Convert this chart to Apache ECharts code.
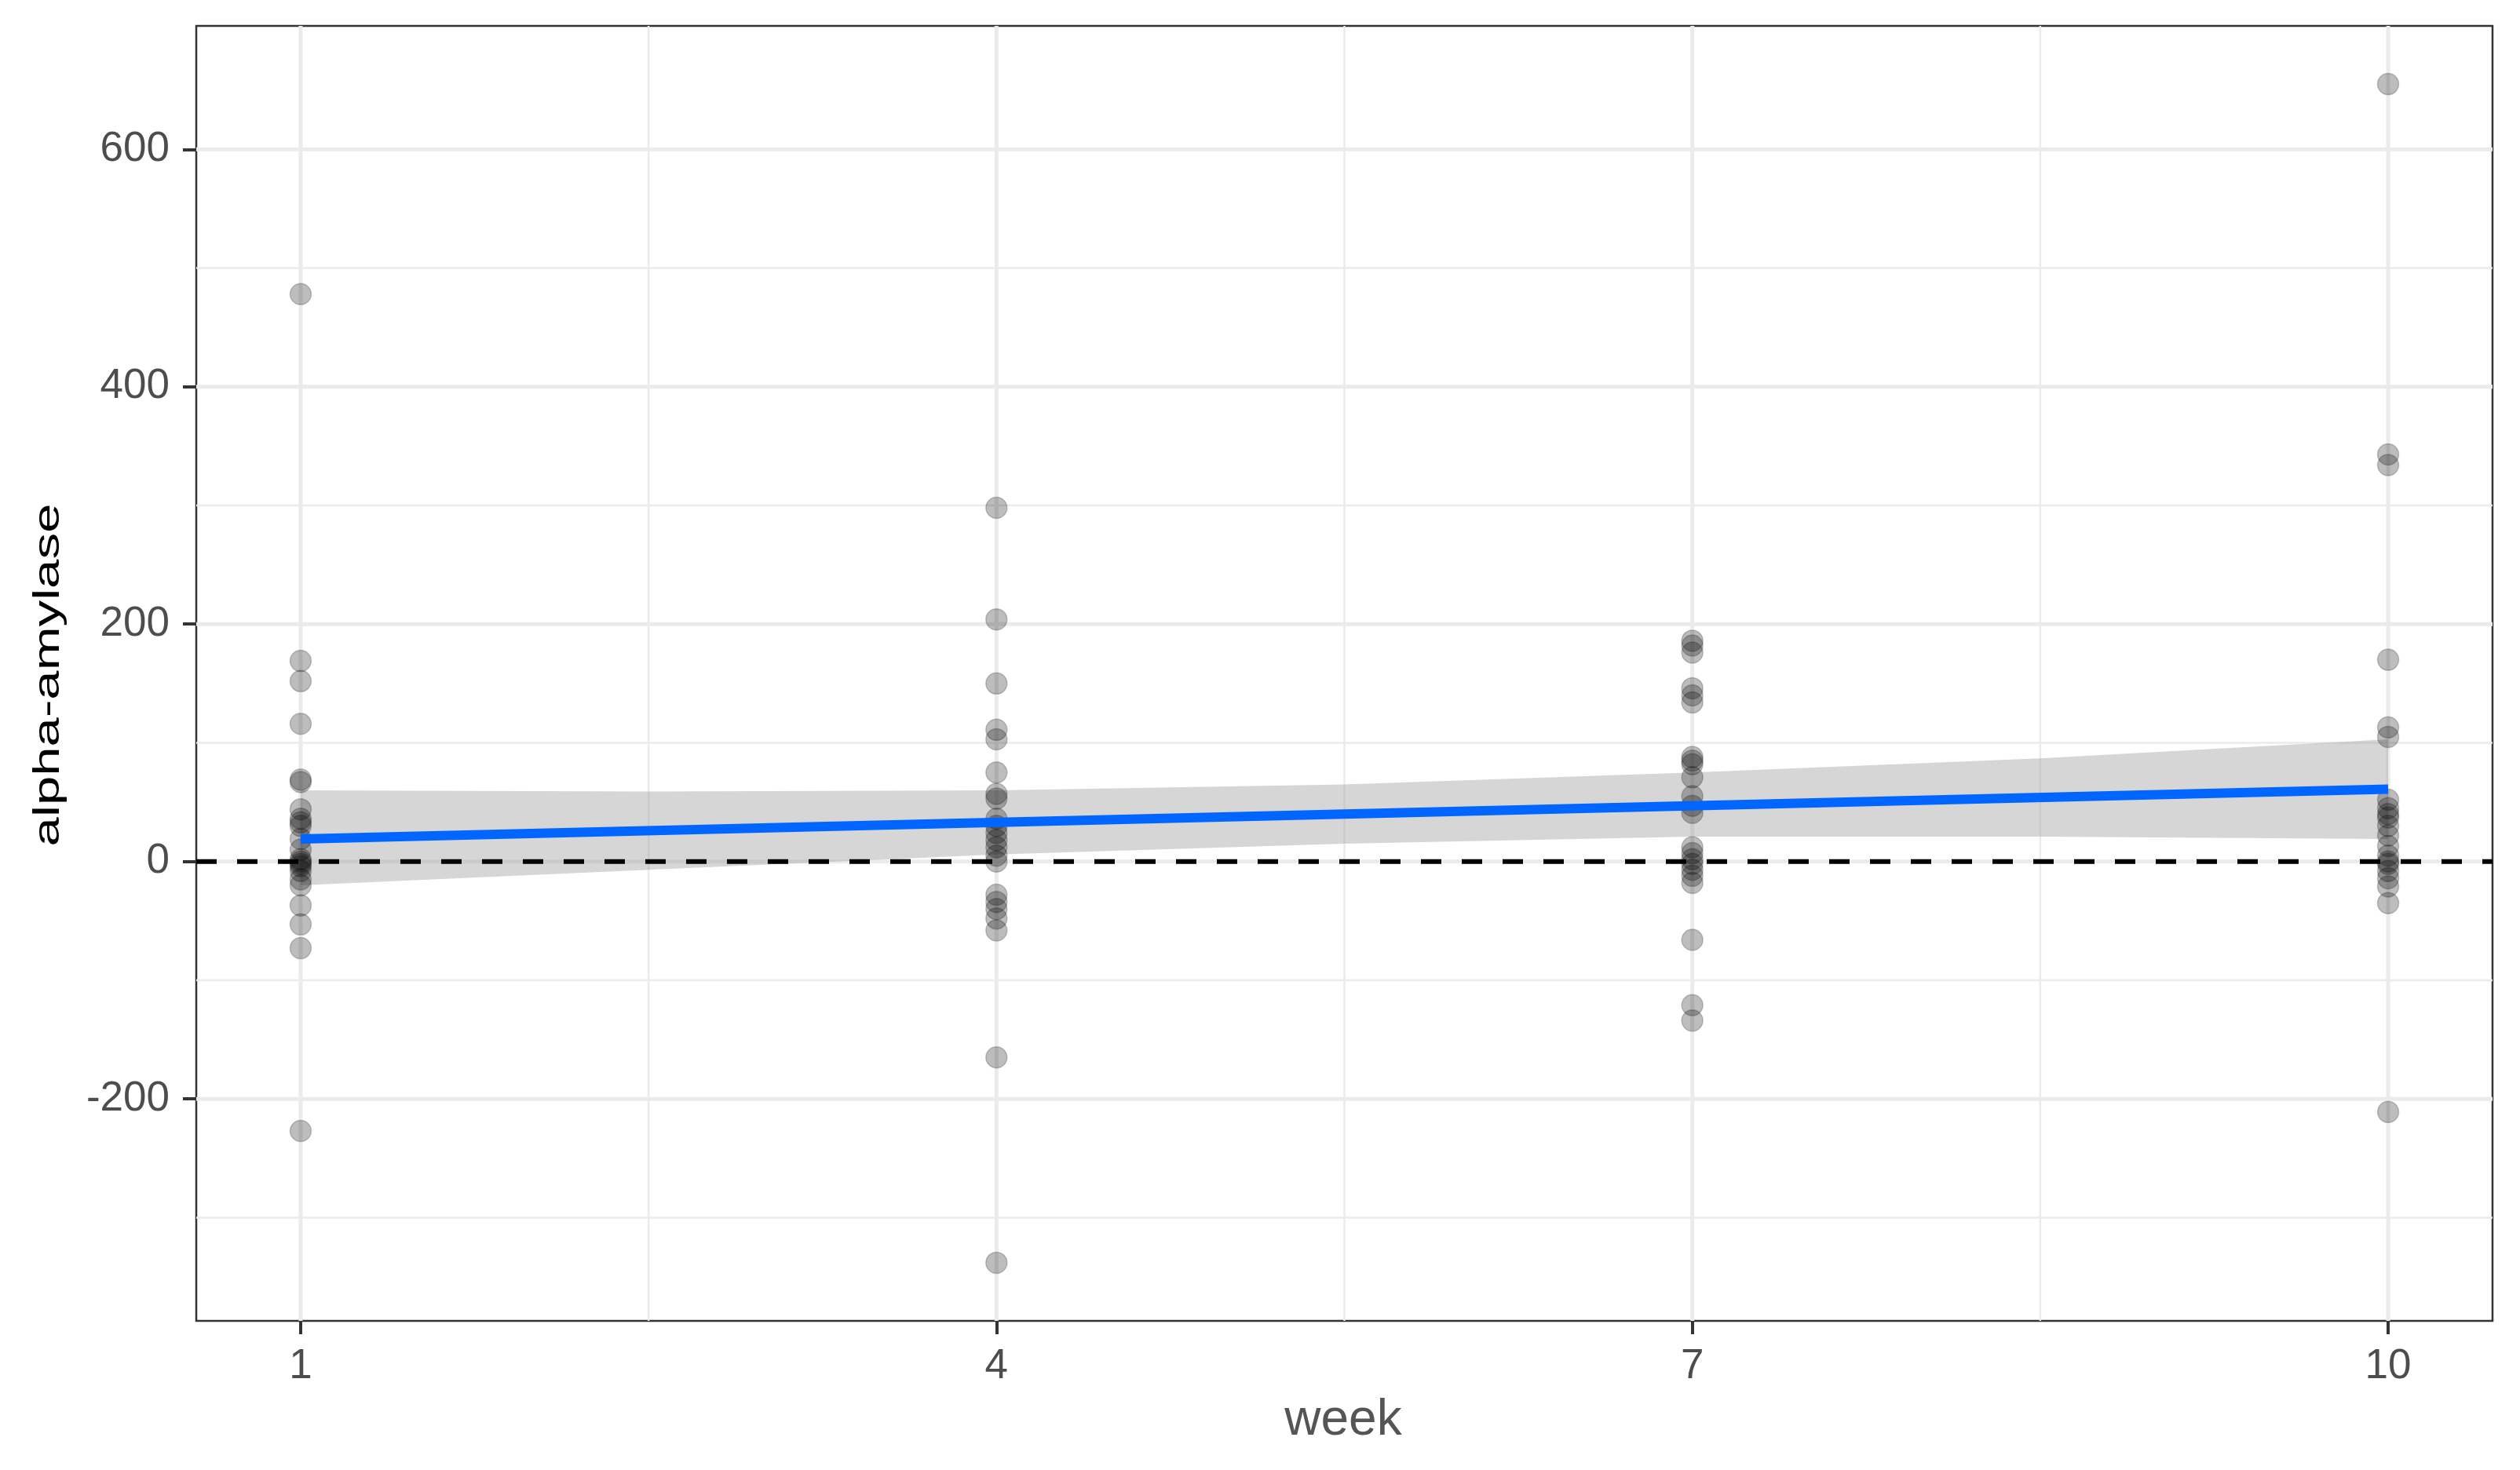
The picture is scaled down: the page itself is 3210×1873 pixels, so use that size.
<!DOCTYPE html>
<html>
<head>
<meta charset="utf-8">
<script src="https://cdn.jsdelivr.net/npm/echarts@6/dist/echarts.min.js"></script>
<style>
html,body{margin:0;padding:0;background:#fff;}
#chart{width:3210px;height:1873px;}
</style>
</head>
<body>
<div id="chart"></div>
<script>
// ---- data ----
const weeks = [1, 4, 7, 10];
const week1 = [478, 169, 152, 116, 69, 67, 44, 36, 33, 30, 19, 10, 2, 0, -2, -4, -8, -15, -20, -37, -53, -73, -227];
const week4 = [298, 204, 150, 111, 103, 75, 57, 53, 36, 30, 24, 18, 12, 5, 0, -28, -34, -40, -48, -58, -165, -338];
const week7 = [186, 182, 176, 146, 140, 134, 88, 85, 82, 71, 55, 47, 41, 12, 7, 2, -2, -7, -12, -18, -66, -121, -134];
const week10 = [655, 343, 334, 170, 113, 105, 52, 45, 40, 37, 30, 22, 13, 5, 0, -2, -8, -14, -21, -35, -211];
const fitX = [1, 10];
const fitY = [19, 61];
const bandX = [1, 2.5, 4, 5.5, 7, 8.5, 10];
const bandLower = [-20, -7, 6, 15, 21, 21, 19];
const bandUpper = [60, 59, 60, 65, 75, 87, 103];
const refLineY = 0;
const xTicks = [1, 4, 7, 10];
const xMinor = [2.5, 5.5, 8.5];
const yTicks = [-200, 0, 200, 400, 600];
const yMinor = [-300, -100, 100, 300, 500];
const xRange = [0.55, 10.45];
const yRange = [-387, 704];
const xTitle = 'week';
const yTitle = 'alpha-amylase';

// ---- build ----
const groups = [week1, week4, week7, week10];
const points = [];
groups.forEach((g, i) => g.forEach(v => points.push([weeks[i], v])));

const FONT = '"Liberation Sans", Arial, Helvetica, sans-serif';

function gridSeries(values, vertical, width) {
  return {
    type: 'custom',
    silent: true,
    z: 1,
    data: values.map(v => vertical ? [v, 0] : [1, v]),
    renderItem: function (params, api) {
      const cs = params.coordSys;
      const p = api.coord([api.value(0), api.value(1)]);
      const shape = vertical
        ? { x1: p[0], y1: cs.y, x2: p[0], y2: cs.y + cs.height }
        : { x1: cs.x, y1: p[1], x2: cs.x + cs.width, y2: p[1] };
      return { type: 'line', shape: shape, style: { stroke: '#ebebeb', lineWidth: width } };
    }
  };
}

const chart = echarts.init(document.getElementById('chart'), null, { renderer: 'canvas' });
chart.setOption({
  animation: false,
  backgroundColor: '#ffffff',
  grid: {
    left: 250, right: 35, top: 33, bottom: 190,
    outerBoundsMode: 'none',
    show: true, backgroundColor: '#ffffff', borderColor: '#333333', borderWidth: 2.5
  },
  xAxis: {
    type: 'value', min: xRange[0], max: xRange[1],
    axisLine: { show: false, onZero: false },
    splitLine: { show: false },
    axisTick: { show: true, customValues: xTicks, length: 17, lineStyle: { color: '#333333', width: 4 } },
    axisLabel: { customValues: xTicks, fontSize: 53, color: '#4d4d4d', margin: 32, fontFamily: FONT }
  },
  yAxis: {
    type: 'value', min: yRange[0], max: yRange[1],
    axisLine: { show: false, onZero: false },
    splitLine: { show: false },
    axisTick: { show: true, customValues: yTicks, length: 17, lineStyle: { color: '#333333', width: 4 } },
    axisLabel: { customValues: yTicks, fontSize: 53, color: '#4d4d4d', margin: 34, fontFamily: FONT }
  },
  graphic: [
    {
      type: 'text', x: 62, y: 860, rotation: Math.PI / 2, scaleX: 1.46, z: 10,
      style: { text: yTitle, font: '46px ' + FONT, fill: '#000000', align: 'center', verticalAlign: 'middle' }
    },
    {
      type: 'text', x: 1711, y: 1810, z: 10,
      style: { text: xTitle, font: '64px ' + FONT, fill: '#555555', align: 'center', verticalAlign: 'middle' }
    }
  ],
  series: [
    gridSeries(xMinor, true, 2.5),
    gridSeries(yMinor, false, 2.5),
    gridSeries(xTicks, true, 5),
    gridSeries(yTicks, false, 5),
    {
      type: 'custom', silent: true, z: 2,
      data: [[bandX[0], bandLower[0]]],
      renderItem: function (params, api) {
        const up = bandX.map((x, i) => api.coord([x, bandUpper[i]]));
        const lo = bandX.map((x, i) => api.coord([x, bandLower[i]])).reverse();
        return { type: 'polygon', shape: { points: up.concat(lo) }, style: { fill: 'rgba(153,153,153,0.4)' } };
      }
    },
    {
      type: 'scatter', z: 3, symbol: 'circle', symbolSize: 27,
      data: points,
      itemStyle: { color: 'rgba(0,0,0,0.32)', borderColor: 'rgba(0,0,0,0.25)', borderWidth: 1.5 }
    },
    {
      type: 'line', z: 4, symbol: 'none',
      data: fitX.map((x, i) => [x, fitY[i]]),
      lineStyle: { color: '#0066ff', width: 12 }
    },
    {
      type: 'line', z: 5, symbol: 'none',
      data: [[xRange[0], refLineY], [xRange[1], refLineY]],
      lineStyle: { color: '#000000', width: 6, type: [26, 26] }
    }
  ]
});
</script>
</body>
</html>
